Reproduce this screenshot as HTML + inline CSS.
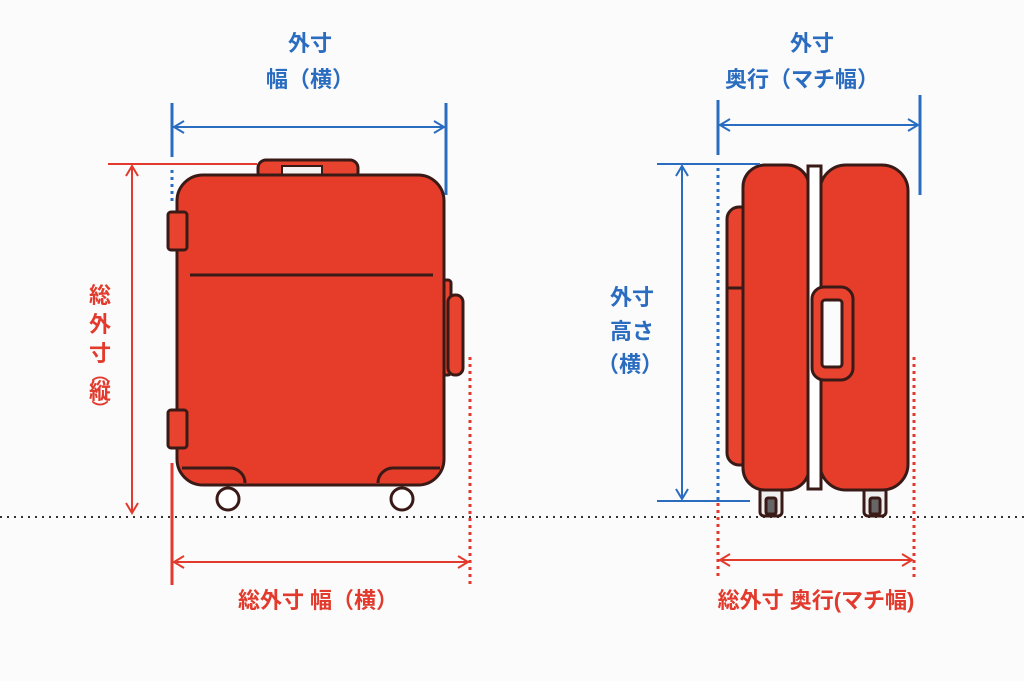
<!DOCTYPE html>
<html><head><meta charset="utf-8"><style>
html,body{margin:0;padding:0;background:#fbfbfc;}
svg{display:block}
text{font-family:"Liberation Sans","Noto Sans CJK JP",sans-serif;font-weight:bold;}
</style></head><body>
<svg width="1024" height="681" viewBox="0 0 1024 681" xmlns="http://www.w3.org/2000/svg">
<defs>
<marker id="ab" markerWidth="14" markerHeight="14" refX="11" refY="7" orient="auto-start-reverse" markerUnits="userSpaceOnUse"><path d="M1,1 L11,7 L1,13" fill="none" stroke="#2a6cc0" stroke-width="2"/></marker>
<marker id="ar" markerWidth="14" markerHeight="14" refX="11" refY="7" orient="auto-start-reverse" markerUnits="userSpaceOnUse"><path d="M1,1 L11,7 L1,13" fill="none" stroke="#e23a2c" stroke-width="2"/></marker>
</defs>
<line x1="0" y1="517" x2="1024" y2="517" stroke="#333" stroke-width="2" stroke-dasharray="2,5"/>

<!-- LEFT SUITCASE -->
<g stroke="#3a1a16" stroke-width="3">
<rect x="258" y="160" width="100" height="20" rx="8" fill="#e8432e"/>
<rect x="282" y="166" width="40" height="12" fill="#f3f3f3" stroke-width="2"/>
<circle cx="228" cy="499" r="11" fill="#fff"/>
<circle cx="402" cy="499" r="11" fill="#fff"/>
<rect x="443" y="280" width="8" height="95" rx="3" fill="#e8432e"/>
<rect x="448" y="295" width="15" height="80" rx="7" fill="#e8432e"/>
<rect x="177" y="175" width="267" height="310" rx="26" fill="#e53d2a"/>
<rect x="168" y="212" width="19" height="38" rx="3" fill="#e8432e"/>
<rect x="168" y="410" width="19" height="38" rx="3" fill="#e8432e"/>
<line x1="190" y1="275" x2="433" y2="275"/>
<path d="M182,468 H230 a15,15 0 0 1 15,15" fill="none"/>
<path d="M440,468 H393 a15,15 0 0 0 -15,15" fill="none"/>
</g>

<!-- RIGHT SUITCASE -->
<g stroke="#3a1a16" stroke-width="3">
<rect x="727" y="207" width="30" height="258" rx="12" fill="#e8432e"/>
<rect x="760" y="488" width="22" height="28" rx="4" fill="#eee"/>
<rect x="864" y="488" width="22" height="28" rx="4" fill="#eee"/>
<rect x="766" y="498" width="10" height="16" rx="2" fill="#666"/>
<rect x="870" y="498" width="10" height="16" rx="2" fill="#666"/>
<rect x="743" y="165" width="66" height="325" rx="22" fill="#e53d2a"/>
<rect x="820" y="165" width="88" height="325" rx="26" fill="#e53d2a"/>
<rect x="808" y="166" width="13" height="323" fill="#fff"/>
<rect x="812" y="287" width="41" height="93" rx="12" fill="#e8432e"/>
<rect x="822" y="300" width="20" height="67" rx="3" fill="#fbfbfc"/>
<line x1="727" y1="288" x2="743" y2="288"/>
</g>

<!-- BLUE DIMS -->
<g stroke="#2a6cc0" stroke-width="3" fill="none">
<line x1="172" y1="103" x2="172" y2="157"/>
<line x1="172" y1="170" x2="172" y2="205" stroke-dasharray="3,4"/>
<line x1="446" y1="103" x2="446" y2="195"/>
<line x1="174" y1="127" x2="444" y2="127" stroke-width="2" marker-start="url(#ab)" marker-end="url(#ab)"/>
<line x1="718" y1="100" x2="718" y2="155"/>
<line x1="718" y1="168" x2="718" y2="500" stroke-dasharray="3,4"/>
<line x1="920" y1="95" x2="920" y2="195"/>
<line x1="720" y1="125" x2="918" y2="125" stroke-width="2" marker-start="url(#ab)" marker-end="url(#ab)"/>
<line x1="657" y1="164" x2="760" y2="164" stroke-width="2"/>
<line x1="657" y1="501" x2="750" y2="501" stroke-width="2"/>
<line x1="682" y1="166" x2="682" y2="499" stroke-width="2" marker-start="url(#ab)" marker-end="url(#ab)"/>
</g>

<!-- RED DIMS -->
<g stroke="#e23a2c" stroke-width="2" fill="none">
<line x1="108" y1="164" x2="257" y2="164"/>
<line x1="132" y1="166" x2="132" y2="513" marker-start="url(#ar)" marker-end="url(#ar)"/>
<line x1="172" y1="463" x2="172" y2="585" stroke-width="3"/>
<line x1="470" y1="357" x2="470" y2="585" stroke-width="3" stroke-dasharray="3,4"/>
<line x1="174" y1="562" x2="468" y2="562" marker-start="url(#ar)" marker-end="url(#ar)"/>
<line x1="718" y1="503" x2="718" y2="580" stroke-width="3" stroke-dasharray="3,4"/>
<line x1="914" y1="357" x2="914" y2="580" stroke-width="3" stroke-dasharray="3,4"/>
<line x1="720" y1="560" x2="912" y2="560" marker-start="url(#ar)" marker-end="url(#ar)"/>
</g>

<!-- TEXT -->
<g fill="#2a6cc0" font-size="22" text-anchor="middle">
<text x="310" y="51">外寸</text>
<text x="310" y="87">幅（横）</text>
<text x="812" y="51">外寸</text>
<text x="802" y="87">奥行（マチ幅）</text>
<text x="632" y="305">外寸</text>
<text x="632" y="339">高さ</text>
<text x="630" y="372">（横）</text>
</g>
<g fill="#e23a2c" font-size="22" text-anchor="middle">
<text x="100" y="303">総</text>
<text x="100" y="332">外</text>
<text x="100" y="361">寸</text>
<text x="100" y="380" font-size="17">︵</text>
<text x="100" y="399">縦</text>
<text x="100" y="415" font-size="17">︶</text>
<text x="318" y="608">総外寸 幅（横）</text>
<text x="816" y="608">総外寸 奥行(マチ幅)</text>
</g>
</svg>
</body></html>
